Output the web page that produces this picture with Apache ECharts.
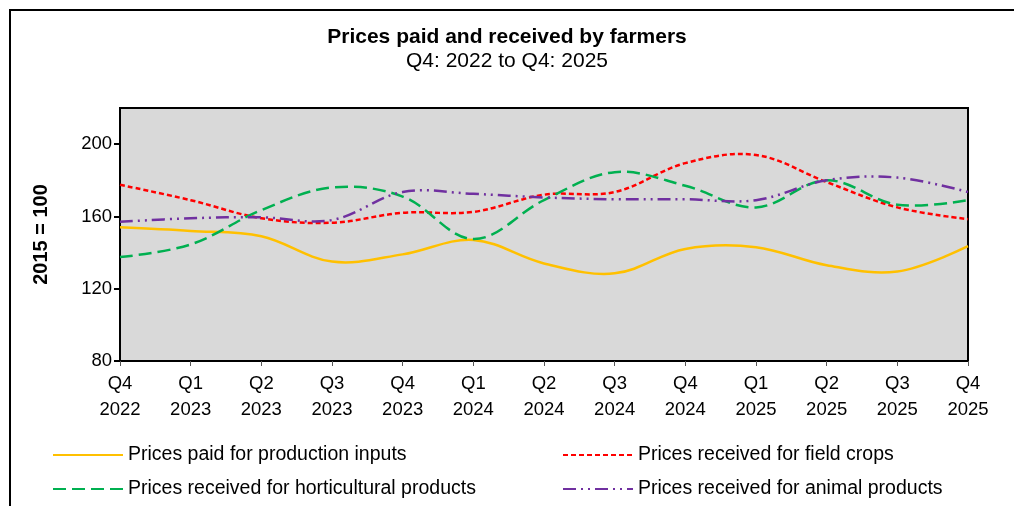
<!DOCTYPE html>
<html>
<head>
<meta charset="utf-8">
<script src="https://cdn.jsdelivr.net/npm/echarts@6/dist/echarts.min.js"></script>
<style>
  html, body { margin: 0; padding: 0; background: #fff; }
  #chart { width: 1014px; height: 506px; }
</style>
</head>
<body>
<div id="chart"></div>
<script>
// quarters on the x axis
const quarters = ['Q4\n2022', 'Q1\n2023', 'Q2\n2023', 'Q3\n2023', 'Q4\n2023', 'Q1\n2024', 'Q2\n2024',
  'Q3\n2024', 'Q4\n2024', 'Q1\n2025', 'Q2\n2025', 'Q3\n2025', 'Q4\n2025'];

// y ticks that carry a label
const yTicks = [80, 120, 160, 200];

// index values, 2015 = 100
const paidInputs = [154, 152, 149, 135, 139, 147, 134, 128.5, 142, 143, 133, 129.5, 143.5];
const fieldCrops = [177.5, 169, 159, 156.5, 162, 162.5, 172, 173.5, 189.5, 194, 179, 165, 158.5];
const horticultural = [137.5, 144.5, 163.5, 176, 171, 147.5, 169, 184.5, 177, 165, 180, 166.5, 169];
const animal = [157, 159, 159.5, 158, 173.5, 172.5, 170.5, 169.5, 169.5, 169, 180, 181.5, 173.5];

const seriesNames = [
  'Prices paid for production inputs',
  'Prices received for field crops',
  'Prices received for horticultural products',
  'Prices received for animal products'
];

const font = 'Liberation Sans, Arial, sans-serif';

const chart = echarts.init(document.getElementById('chart'));

// invisible line series: only feeds the legend (line icon with dash type)
function legendSeries(name, data, color, type) {
  return {
    name: name,
    type: 'line',
    data: data,
    symbol: 'none',
    silent: true,
    lineStyle: { color: color, width: 2.5, type: type, opacity: 0 },
    itemStyle: { color: color }
  };
}

// the visible curve: spline through all points, no clamping at peaks (Excel-like smoothing)
function curveSeries(name, data, color, dash) {
  return {
    name: name,
    type: 'custom',
    silent: true,
    data: data.map((v, i) => [i, v]),
    encode: { x: 0, y: 1 },
    renderItem(params, api) {
      if (params.dataIndex !== 0) {
        return null;
      }
      const points = data.map((v, i) => api.coord([i, v]));
      return {
        type: 'polyline',
        shape: { points: points, smooth: 0.36 },
        style: { stroke: color, lineWidth: 2.5, lineDash: dash, fill: null }
      };
    }
  };
}

// legend column, no marker dot on the line
function legendColumn(names, left) {
  return {
    data: names,
    orient: 'vertical',
    left: left,
    top: 440,
    itemWidth: 70,
    itemHeight: 12,
    itemGap: 14,
    itemStyle: { opacity: 0 },
    lineStyle: { opacity: 1 },
    textStyle: { fontFamily: font, fontSize: 19.5, color: '#000' }
  };
}

chart.setOption({
  backgroundColor: '#fff',
  animation: false,
  textStyle: { fontFamily: font, color: '#000' },
  title: {
    text: 'Prices paid and received by farmers',
    subtext: 'Q4: 2022 to Q4: 2025',
    left: 'center',
    top: 22,
    itemGap: 3,
    textStyle: { fontFamily: font, fontSize: 21, fontWeight: 'bold', color: '#000' },
    subtextStyle: { fontFamily: font, fontSize: 21, color: '#000' }
  },
  // outer frame of the chart
  graphic: [{
    type: 'rect',
    shape: { x: 10, y: 10, width: 1030, height: 530 },
    style: { fill: 'none', stroke: '#000', lineWidth: 2 },
    silent: true
  }],
  legend: [
    legendColumn([seriesNames[0], seriesNames[2]], 47),
    legendColumn([seriesNames[1], seriesNames[3]], 557)
  ],
  grid: {
    left: 120,
    right: 46,
    top: 108,
    bottom: 145,
    show: true,
    backgroundColor: '#d9d9d9',
    borderColor: '#000',
    borderWidth: 2
  },
  xAxis: {
    type: 'category',
    data: quarters,
    boundaryGap: false,
    axisLine: { lineStyle: { color: '#000', width: 2 } },
    axisTick: { alignWithLabel: true, length: 5, lineStyle: { color: '#555', width: 1 } },
    axisLabel: {
      interval: 0,
      margin: 10,
      fontFamily: font,
      fontSize: 18.5,
      lineHeight: 26,
      color: '#000'
    },
    splitLine: { show: false }
  },
  yAxis: {
    type: 'value',
    min: 80,
    max: 220,
    interval: 40,
    name: '2015 = 100',
    nameLocation: 'middle',
    nameGap: 69,
    nameTextStyle: { fontFamily: font, fontSize: 20, fontWeight: 'bold', color: '#000' },
    axisLine: { show: true, lineStyle: { color: '#000', width: 2 } },
    axisTick: { show: true, length: 6, customValues: yTicks, lineStyle: { color: '#000', width: 2 } },
    axisLabel: { fontFamily: font, fontSize: 18.5, color: '#000', margin: 8, customValues: yTicks },
    splitLine: { show: false }
  },
  series: [
    legendSeries(seriesNames[0], paidInputs, '#FFC000', 'solid'),
    legendSeries(seriesNames[1], fieldCrops, '#FF0000', [5, 3]),
    legendSeries(seriesNames[2], horticultural, '#00B050', [13, 6]),
    legendSeries(seriesNames[3], animal, '#7030A0', [13, 5, 2, 5, 2, 5]),
    curveSeries(seriesNames[0], paidInputs, '#FFC000', null),
    curveSeries(seriesNames[1], fieldCrops, '#FF0000', [5, 3]),
    curveSeries(seriesNames[2], horticultural, '#00B050', [13, 6]),
    curveSeries(seriesNames[3], animal, '#7030A0', [13, 5, 2, 5, 2, 5])
  ]
});
</script>
</body>
</html>
